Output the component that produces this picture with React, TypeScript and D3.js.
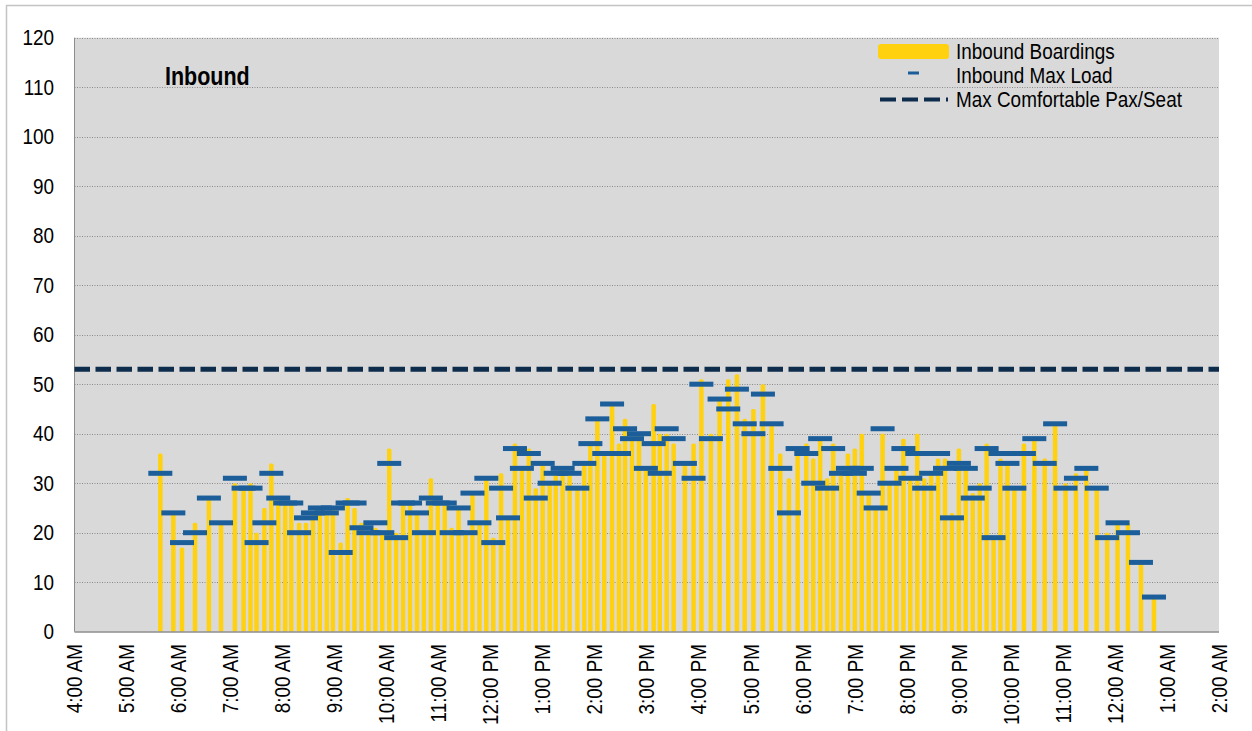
import React from "react";
import { scaleLinear, range } from "d3";

// departure times (clock), inbound boardings and max load per trip
const tripTimes = [
  "5:39", "5:54", "6:04", "6:19", "6:35", "6:49", "7:05", "7:15", "7:23", "7:30",
  "7:39", "7:47", "7:55", "8:03", "8:10", "8:19", "8:27", "8:35", "8:43", "8:51",
  "8:58", "9:07", "9:15", "9:23", "9:31", "9:39", "9:47", "9:55", "10:03", "10:11",
  "10:19", "10:27", "10:35", "10:43", "10:51", "10:59", "11:07", "11:15", "11:23", "11:31",
  "11:39", "11:47", "11:55", "12:03", "12:12", "12:20", "12:28", "12:36", "12:44", "12:52",
  "13:00", "13:08", "13:15", "13:23", "13:31", "13:40", "13:48", "13:55", "14:03", "14:11",
  "14:20", "14:28", "14:35", "14:43", "14:51", "14:59", "15:08", "15:15", "15:23", "15:31",
  "15:44", "15:54", "16:03", "16:14", "16:24", "16:34", "16:44", "16:53", "17:03", "17:14",
  "17:24", "17:34", "17:44", "17:54", "18:04", "18:12", "18:20", "18:28", "18:35", "18:44",
  "18:52", "19:00", "19:08", "19:16", "19:24", "19:32", "19:40", "19:48", "19:56", "20:04",
  "20:12", "20:20", "20:28", "20:36", "20:44", "20:52", "21:00", "21:08", "21:16", "21:24",
  "21:32", "21:40", "21:48", "21:56", "22:04", "22:15", "22:27", "22:39", "22:51", "23:03",
  "23:15", "23:27", "23:39", "23:51", "0:03", "0:15", "0:30", "0:45",
];

const boardings = [
  36, 24, 17, 22, 27, 22, 30, 29, 30, 20,
  25, 34, 27, 26, 26, 22, 22, 24, 25, 24,
  25, 18, 27, 25, 22, 20, 21, 20, 37, 20,
  26, 26, 24, 20, 31, 26, 26, 21, 25, 20,
  28, 22, 31, 19, 32, 23, 38, 33, 37, 29,
  34, 30, 32, 33, 32, 29, 34, 38, 43, 36,
  46, 38, 43, 39, 40, 33, 46, 40, 40, 38,
  34, 38, 51, 40, 47, 51, 52, 43, 45, 50,
  42, 36, 31, 36, 38, 35, 39, 31, 38, 32,
  36, 37, 40, 28, 25, 40, 30, 33, 39, 31,
  40, 31, 32, 35, 35, 24, 37, 33, 28, 30,
  38, 19, 35, 34, 29, 38, 39, 35, 42, 30,
  32, 33, 29, 20, 22, 22, 14, 7,
];

const maxLoad = [
  32, 24, 18, 20, 27, 22, 31, 29, 29, 18,
  22, 32, 27, 26, 26, 20, 23, 24, 25, 24,
  25, 16, 26, 26, 21, 20, 22, 20, 34, 19,
  26, 26, 24, 20, 27, 26, 26, 20, 25, 20,
  28, 22, 31, 18, 29, 23, 37, 33, 36, 27,
  34, 30, 32, 33, 32, 29, 34, 38, 43, 36,
  46, 36, 41, 39, 40, 33, 38, 32, 41, 39,
  34, 31, 50, 39, 47, 45, 49, 42, 40, 48,
  42, 33, 24, 37, 36, 30, 39, 29, 37, 32,
  33, 32, 33, 28, 25, 41, 30, 33, 37, 31,
  36, 29, 32, 36, 33, 23, 34, 33, 27, 29,
  37, 19, 36, 34, 29, 36, 39, 34, 42, 29,
  31, 33, 29, 19, 22, 20, 14, 7,
];

const maxComfortable = 53;
const yTicks = range(0, 121, 10);
const hourLabels = [
  "4:00 AM", "5:00 AM", "6:00 AM", "7:00 AM", "8:00 AM", "9:00 AM", "10:00 AM",
  "11:00 AM", "12:00 PM", "1:00 PM", "2:00 PM", "3:00 PM", "4:00 PM", "5:00 PM",
  "6:00 PM", "7:00 PM", "8:00 PM", "9:00 PM", "10:00 PM", "11:00 PM", "12:00 AM",
  "1:00 AM", "2:00 AM",
];

// minutes after 4:00 AM, service day wraps past midnight
const toMinutes = (t: string) => {
  let [h, m] = t.split(":").map(Number);
  if (h < 4) h += 24;
  return (h - 4) * 60 + m;
};

// no narrow font installed: squeeze Liberation Sans horizontally
const FONT = "'Liberation Sans', Arial, sans-serif";
const NARROW = 0.86;
const YELLOW = "#FFD10F";
const BLUE = "#1B5E9A";
const NAVY = "#0E2D4C";

function NText({ x, y, rotate = 0, anchor = "start", size = 22, bold = false, children }: any) {
  return (
    <text
      transform={`translate(${x},${y}) rotate(${rotate}) scale(${NARROW},1)`}
      textAnchor={anchor}
      dy="0.35em"
      fontSize={size}
      fontWeight={bold ? "bold" : "normal"}
      fill="#000"
    >
      {children}
    </text>
  );
}

export default function App() {
  const width = 1252;
  const height = 731;
  const margin = { left: 74.5, right: 1219, top: 37.7, bottom: 631.7 };

  const xScale = scaleLinear().domain([0, 22 * 60]).range([margin.left, margin.right]);
  const yScale = scaleLinear().domain([0, 120]).range([margin.bottom, margin.top]);

  const barW = 4.5;
  const dashW = 24;

  return (
    <svg
      width={width}
      height={height}
      style={{ position: "absolute", left: 0, top: 0, background: "#fff" }}
      fontFamily={FONT}
    >
      {/* outer frame */}
      <rect x={6.5} y={5.5} width={1260} height={760} fill="none" stroke="#c4c4c4" strokeWidth={1.5} />

      {/* plot area */}
      <rect
        x={margin.left}
        y={margin.top}
        width={margin.right - margin.left}
        height={margin.bottom - margin.top}
        fill="#d9d9d9"
      />
      {yTicks.filter((d) => d > 0).map((d) => (
        <line
          key={"g" + d}
          x1={margin.left}
          x2={margin.right}
          y1={Math.round(yScale(d)) + 0.5}
          y2={Math.round(yScale(d)) + 0.5}
          stroke="#8a8a8a"
          strokeDasharray="1 1.5"
        />
      ))}
      <line x1={margin.left} x2={margin.left} y1={margin.top} y2={margin.bottom} stroke="#8c8c8c" strokeWidth={1} />

      {/* y labels */}
      {yTicks.map((d) => (
        <NText key={"y" + d} x={54} y={yScale(d)} anchor="end">
          {d}
        </NText>
      ))}

      {/* x labels */}
      {hourLabels.map((d, i) => (
        <NText key={"x" + d} x={xScale(i * 60)} y={644} rotate={-90} anchor="end">
          {d}
        </NText>
      ))}

      {/* boardings bars */}
      {tripTimes.map((t, i) => (
        <rect
          key={"b" + i}
          x={xScale(toMinutes(t)) - barW / 2}
          y={yScale(boardings[i])}
          width={barW}
          height={yScale(0) - yScale(boardings[i])}
          rx={1.5}
          fill={YELLOW}
        />
      ))}

      {/* max load dashes */}
      {tripTimes.map((t, i) => (
        <rect
          key={"m" + i}
          x={xScale(toMinutes(t)) - dashW / 2}
          y={yScale(maxLoad[i]) - 2.5}
          width={dashW}
          height={5}
          fill={BLUE}
        />
      ))}

      {/* axis line */}
      <line x1={margin.left} x2={margin.right} y1={632} y2={632} stroke="#8c8c8c" strokeWidth={1.5} />

      {/* max comfortable line */}
      <line
        x1={margin.left}
        x2={margin.right}
        y1={yScale(maxComfortable)}
        y2={yScale(maxComfortable)}
        stroke={NAVY}
        strokeWidth={5}
        strokeDasharray="15.5 5.5"
      />

      {/* title */}
      <NText x={165} y={76} size={25} bold>
        Inbound
      </NText>

      {/* legend */}
      <rect x={878} y={44} width={71} height={15} rx={3} fill={YELLOW} />
      <rect x={908} y={71.5} width={11} height={3} fill={BLUE} />
      <line x1={880} x2={948} y1={99.5} y2={99.5} stroke={NAVY} strokeWidth={4} strokeDasharray="16 6" />
      <NText x={956} y={51}>Inbound Boardings</NText>
      <NText x={956} y={75}>Inbound Max Load</NText>
      <NText x={956} y={99.5}>Max Comfortable Pax/Seat</NText>
    </svg>
  );
}
